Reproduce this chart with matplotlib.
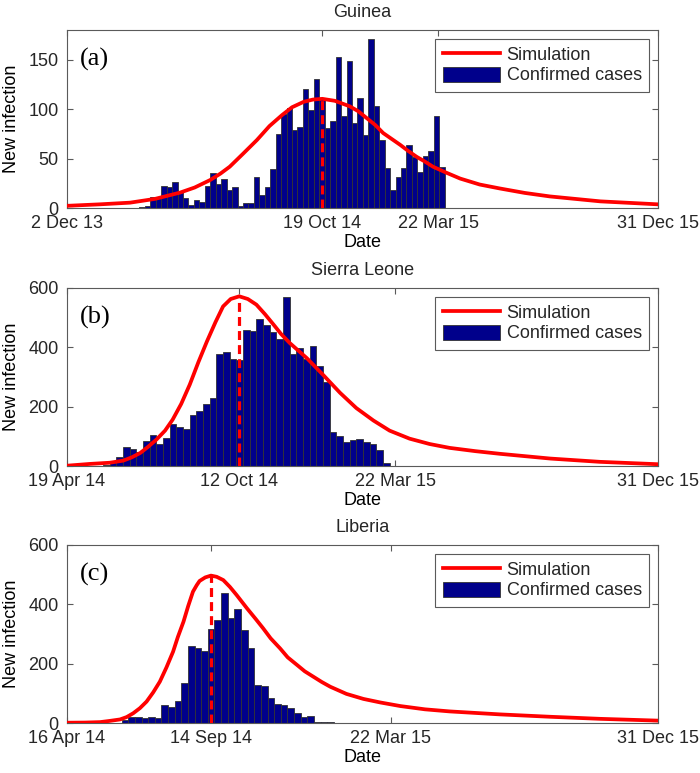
import matplotlib
matplotlib.use('Agg')
import matplotlib.pyplot as plt
import numpy as np
from matplotlib.lines import Line2D
from matplotlib.patches import Patch

plt.rcParams['font.family'] = ['Liberation Sans', 'DejaVu Sans']
plt.rcParams['font.size'] = 13
plt.rcParams['text.color'] = '#262626'

# ---------------- data (weekly confirmed cases) ----------------
guinea_cases = [1, 2, 11, 11, 23, 22, 27, 16, 10, 3, 8, 6, 23, 36, 25, 30, 18, 22, 2, 5,
                5, 32, 13, 21, 40, 75, 95, 101, 79, 82, 120, 99, 131, 110, 81, 88, 153, 93,
                149, 86, 111, 74, 171, 103, 69, 41, 18, 32, 41, 64, 52, 37, 53, 58, 93, 42]
sierra_cases = [3, 17, 31, 64, 58, 47, 86, 105, 76, 95, 142, 131, 124, 173, 185, 210, 231,
                379, 385, 361, 359, 457, 454, 497, 477, 452, 428, 570, 378, 397, 361, 405,
                339, 283, 114, 103, 81, 87, 92, 82, 76, 54, 11]
liberia_cases = [2, 11, 20, 20, 17, 22, 19, 62, 55, 75, 136, 261, 252, 244, 317, 349, 437,
                 354, 386, 313, 255, 129, 126, 84, 66, 61, 50, 34, 20, 26, 6, 4, 4, 2, 2, 2, 2, 1]

# simulation curves (day since axis start, new infections)
guinea_sim_day = [0, 42, 81, 113, 145, 164, 184, 197, 209, 226, 244, 260, 276, 289, 304, 316,
                  328, 344, 363, 374, 385, 396, 406, 417, 428, 438, 449, 460, 470, 487, 505,
                  530, 556, 588, 620, 685, 759]
guinea_sim_val = [2.5, 4, 5.7, 9.5, 15.8, 21, 28.6, 35, 42, 55, 69, 83, 94, 102, 107.5, 109.8,
                  110.5, 108.5, 103, 98, 91, 84, 76, 70, 64, 58, 52, 47, 42, 36, 30,
                  24, 20, 15.5, 12, 7, 4]
sierra_sim_day = [0, 24, 45, 59, 68, 77, 85, 94, 103, 111, 120, 129, 138, 147, 156, 164, 172,
                  181, 190, 199, 208, 217, 225, 234, 252, 269, 287, 304, 322, 339, 360, 381,
                  402, 429, 455, 508, 560, 621]
sierra_sim_val = [2, 8, 12, 19, 30, 45, 65, 90, 120, 157, 210, 275, 350, 420, 485, 538, 563,
                  572, 563, 544, 512, 477, 445, 415, 364, 308, 247, 196, 154, 120, 93, 75,
                  62, 51, 42, 26, 15, 7]
liberia_sim_day = [0, 19, 35, 45, 56, 63, 70, 77, 84, 91, 98, 105, 112, 117, 123, 128, 133,
                   137, 140, 146, 152, 158, 165, 172, 179, 190, 199, 207, 215, 225, 233, 243,
                   251, 260, 269, 278, 295, 313, 331, 352, 378, 404, 457, 510, 563, 624]
liberia_sim_val = [2, 2.5, 4, 8, 13, 21, 34, 51, 73, 104, 140, 188, 241, 290, 342, 395, 443,
                   465, 479, 491, 497, 493, 482, 459, 432, 387, 352, 320, 286, 252, 222, 196,
                   175, 157, 139, 123, 99, 82, 70, 58, 47, 40, 30, 22, 15, 9]

# axis extents (days) and tick labels
titles = ['Guinea', 'Sierra Leone', 'Liberia']
letters = ['(a)', '(b)', '(c)']
axis_days = [759, 621, 624]
tick_days = [[0, 328, 477, 759], [0, 181, 345, 621], [0, 152, 342, 624]]
tick_labels = [['2 Dec 13', '19 Oct 14', '22 Mar 15', '31 Dec 15'],
               ['19 Apr 14', '12 Oct 14', '22 Mar 15', '31 Dec 15'],
               ['16 Apr 14', '14 Sep 14', '22 Mar 15', '31 Dec 15']]
bar_start = [93, 38, 50.7]
peak_day = [328, 181, 152]
peak_val = [110.5, 572, 497]
ymax = [180, 600, 600]
yticks = [[0, 50, 100, 150], [0, 200, 400, 600], [0, 200, 400, 600]]

cases = [guinea_cases, sierra_cases, liberia_cases]
sim_day = [guinea_sim_day, sierra_sim_day, liberia_sim_day]
sim_val = [guinea_sim_val, sierra_sim_val, liberia_sim_val]

# ---------------- figure ----------------
W, H = 700, 773
fig = plt.figure(figsize=(W / 100, H / 100), dpi=100)
navy = '#00008B'
spine_c = '#5a5a5a'
tops = [30, 288, 545]
ph = 178.3
left, right = 67, 658

for i in range(3):
    top = tops[i]
    ax = fig.add_axes([left / W, 1 - (top + ph) / H, (right - left) / W, ph / H])
    x = bar_start[i] + 7 * np.arange(len(cases[i]))
    ax.bar(x, cases[i], width=7, align='edge', color=navy, edgecolor='#333333',
           linewidth=0.6, zorder=2)
    ax.plot(sim_day[i], sim_val[i], color='red', lw=2.7, zorder=3,
            solid_joinstyle='round')
    ax.plot([peak_day[i], peak_day[i]], [0, peak_val[i]], color='red', lw=2.3,
            ls=(0, (2.8, 1.6)), zorder=4)
    ax.set_xlim(0, axis_days[i])
    ax.set_ylim(0, ymax[i])
    ax.set_xticks(tick_days[i])
    ax.set_xticklabels(tick_labels[i])
    ax.set_yticks(yticks[i])
    ax.tick_params(direction='in', top=True, right=True, length=4, width=0.8,
                   color=spine_c, labelcolor='#262626', labelsize=13)
    ax.tick_params(axis='x', pad=5)
    ax.tick_params(axis='y', pad=6)
    for s in ax.spines.values():
        s.set_color(spine_c)
        s.set_linewidth(0.8)
    ax.set_xlabel('Date', labelpad=1)
    ax.set_ylabel('New infection', labelpad=6)
    ax.set_title(titles[i], fontsize=13, pad=9.5, color='#262626')
    ax.text(0.022, 0.835, letters[i], transform=ax.transAxes, va='center', ha='left',
            fontsize=19, family=['Liberation Serif', 'DejaVu Serif'], color='black')
    handles = [Line2D([], [], color='red', lw=2.7),
               Patch(facecolor=navy, edgecolor='#333333', linewidth=0.6)]
    leg = ax.legend(handles, ['Simulation', 'Confirmed cases'], loc='upper right',
                    fancybox=False, framealpha=1, edgecolor=spine_c, fontsize=13,
                    borderpad=0.4, labelspacing=0.15, handlelength=3.2,
                    handletextpad=0.35, handleheight=0.9, borderaxespad=0.5)
    leg.get_frame().set_linewidth(0.8)

fig.savefig('out.png', dpi=100)
